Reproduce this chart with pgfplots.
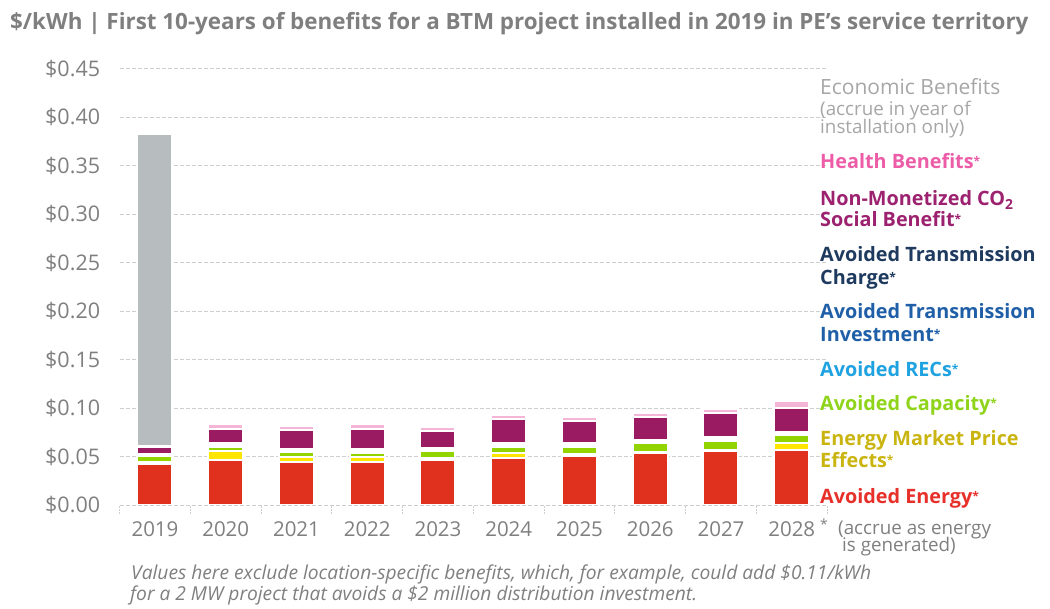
\documentclass[border=0pt]{standalone}
\usepackage{pgfplots}
\pgfplotsset{compat=1.18}
\usepackage{pgfplotstable}
\usepackage{fontspec}
\setmainfont{Open Sans}
\definecolor{cEnergy}{HTML}{E0301E}
\definecolor{cEMPE}{HTML}{FFE500}
\definecolor{cCap}{HTML}{92D400}
\definecolor{cRECs}{HTML}{1FA2E0}
\definecolor{cTInv}{HTML}{1F5FA8}
\definecolor{cTChg}{HTML}{1E3A5F}
\definecolor{cCO2}{HTML}{9B1B63}
\definecolor{cHealth}{HTML}{F5B5D6}
\definecolor{cEcon}{HTML}{B7BCBF}
\definecolor{tHealth}{HTML}{EC5CA7}
\definecolor{tCO2}{HTML}{9C2270}
\definecolor{tEMPE}{HTML}{C9B410}
\definecolor{tCap}{HTML}{8FD41A}
\definecolor{tEnergy}{HTML}{E8302A}
\definecolor{tEcon}{HTML}{A6A6A6}
\definecolor{cText}{HTML}{7F7F7F}
\definecolor{cGrid}{HTML}{CFCFCF}

\pgfplotstableread{
x energy empe cap recs tinv tchg co2 health econ
0 0.0425 0.0020 0.0062 0.0007 0.0007 0.0007 0.0065 0.0020 0.3216
1 0.0469 0.0086 0.0048 0.0013 0.0013 0.0012 0.0145 0.0048 0
2 0.0448 0.0045 0.0052 0.0011 0.0011 0.0012 0.0190 0.0041 0
3 0.0448 0.0045 0.0048 0.0011 0.0011 0.0012 0.0210 0.0048 0
4 0.0469 0.0017 0.0069 0.0011 0.0011 0.0012 0.0169 0.0041 0
5 0.0487 0.0045 0.0066 0.0013 0.0013 0.0012 0.0248 0.0045 0
6 0.0510 0.0020 0.0066 0.0013 0.0013 0.0012 0.0228 0.0041 0
7 0.0531 0.0020 0.0086 0.0013 0.0013 0.0012 0.0228 0.0045 0
8 0.0552 0.0020 0.0083 0.0014 0.0014 0.0013 0.0248 0.0041 0
9 0.0572 0.0062 0.0083 0.0013 0.0013 0.0012 0.0248 0.0066 0
}\datatable

\newcommand\legfont{\bfseries\fontsize{19.8bp}{22bp}\selectfont}
\newcommand\smallfont{\fontsize{18.8bp}{20bp}\selectfont}
\newcommand\st{\raisebox{3bp}{\fontsize{12bp}{12bp}\selectfont *}}
\newcommand\legtext[4]{\node[anchor=base west, inner sep=0pt, text=#1, font=#2] at (820,#3) {#4};}

\begin{document}
\begin{tikzpicture}[x=1bp,y=1bp]
\useasboundingbox (0,0) rectangle (1050,609);
\begin{axis}[
  at={(119.6bp,104bp)}, anchor=south west,
  scale only axis, width=707.5bp, height=436.5bp,
  xmin=-0.5, xmax=9.5, ymin=0, ymax=0.45,
  ybar stacked, bar width=35bp,
  axis line style={draw=none},
  ytick={0,0.05,0.10,0.15,0.20,0.25,0.30,0.35,0.40,0.45},
  yticklabels={\$0.00,\$0.05,\$0.10,\$0.15,\$0.20,\$0.25,\$0.30,\$0.35,\$0.40,\$0.45},
  xtick={0,...,9},
  xticklabels={2019,2020,2021,2022,2023,2024,2025,2026,2027,2028},
  minor xtick={-0.5,0.5,...,9.5},
  tick align=outside, xtick pos=left, ytick pos=left,
  major tick length=0pt, minor tick length=9bp,
  minor x tick style={draw=cGrid, line width=0.8bp, dash pattern=on 2bp off 1bp},
  ymajorgrids,
  grid style={draw=cGrid, line width=0.8bp, dash pattern=on 4bp off 2bp},
  ticklabel style={text=cText},
  yticklabel style={font=\fontsize{21.5bp}{24bp}\selectfont, xshift=-16bp},
  xticklabel style={font=\fontsize{20.5bp}{24bp}\selectfont, yshift=-13bp},
]
\addplot[fill=cEnergy, draw=white, line width=2bp] table[x=x,y=energy]{\datatable};
\addplot[fill=cEMPE, draw=white, line width=2bp] table[x=x,y=empe]{\datatable};
\addplot[fill=cCap, draw=white, line width=2bp] table[x=x,y=cap]{\datatable};
\addplot[fill=cRECs, draw=white, line width=2bp] table[x=x,y=recs]{\datatable};
\addplot[fill=cTInv, draw=white, line width=2bp] table[x=x,y=tinv]{\datatable};
\addplot[fill=cTChg, draw=white, line width=2bp] table[x=x,y=tchg]{\datatable};
\addplot[fill=cCO2, draw=white, line width=2bp] table[x=x,y=co2]{\datatable};
\addplot[fill=cHealth, draw=white, line width=2bp] table[x=x,y=health]{\datatable};
\addplot[fill=cEcon, draw=white, line width=2bp] table[x=x,y=econ]{\datatable};
\end{axis}

% title
\node[anchor=base west, inner sep=0pt, text=cText, font=\bfseries\fontsize{22.4bp}{24bp}\selectfont] at (10,579)
  {\$/kWh | First 10-years of benefits for a BTM project installed in 2019 in PE's service territory};

% legend
\legtext{tEcon}{\fontsize{21bp}{24bp}\selectfont}{514}{Economic Benefits}
\legtext{tEcon}{\smallfont}{493}{(accrue in year of}
\legtext{tEcon}{\smallfont}{475}{installation only)}
\legtext{tHealth}{\legfont}{440}{Health Benefits\st}
\legtext{tCO2}{\legfont}{403}{Non-Monetized CO\textsubscript{2}}
\legtext{tCO2}{\legfont}{382}{Social Benefit\st}
\legtext{cTChg}{\legfont}{347}{Avoided Transmission}
\legtext{cTChg}{\legfont}{324}{Charge\st}
\legtext{cTInv}{\legfont}{290}{Avoided Transmission}
\legtext{cTInv}{\legfont}{267}{Investment\st}
\legtext{cRECs}{\legfont}{232}{Avoided RECs\st}
\legtext{tCap}{\legfont}{198}{Avoided Capacity\st}
\legtext{tEMPE}{\legfont}{163}{Energy Market Price}
\legtext{tEMPE}{\legfont}{141}{Effects\st}
\legtext{tEnergy}{\legfont}{105}{Avoided Energy\st}

\node[anchor=base west, inner sep=0pt, text=cText, font=\fontsize{14bp}{14bp}\selectfont] at (820,79) {*};
\node[anchor=base west, inner sep=0pt, text=cText, font=\smallfont] at (838,74) {(accrue as energy};
\node[anchor=base west, inner sep=0pt, text=cText, font=\smallfont] at (842,57) {is generated)};

% footnote
\node[anchor=base west, inner sep=0pt, text=cText, font=\itshape\fontsize{19.2bp}{21bp}\selectfont] at (131,29)
  {Values here exclude location-specific benefits, which, for example, could add \$0.11/kWh};
\node[anchor=base west, inner sep=0pt, text=cText, font=\itshape\fontsize{19.2bp}{21bp}\selectfont] at (130,8)
  {for a 2 MW project that avoids a \$2 million distribution investment.};
\end{tikzpicture}
\end{document}
